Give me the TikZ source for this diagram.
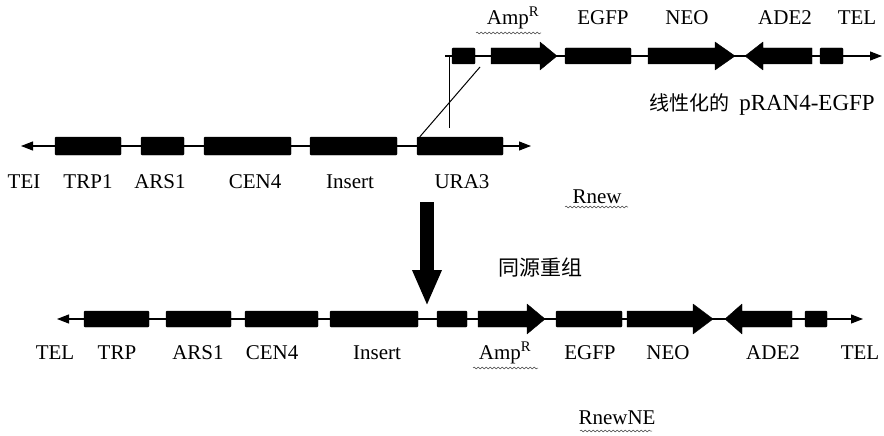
\documentclass[tikz,border=0pt]{standalone}
\usepackage{fontspec}
\setmainfont{Liberation Serif}
\newfontfamily\cjk{Noto Sans CJK SC}
\usetikzlibrary{arrows.meta, decorations.pathmorphing}

\begin{document}
\begin{tikzpicture}[
    x=1pt, y=-1pt,
    backbone/.style={line width=1.1pt},
    righttip/.style={-{Triangle[length=12pt, width=9pt]}},
    bothtips/.style={{Triangle[length=12pt, width=9pt]}-{Triangle[length=12pt, width=9pt]}},
    gene/.style={rectangle, draw, fill=black, rounded corners=1pt, inner sep=0pt, minimum height=16pt},
    genearrow/.style={fill=black, draw, line join=round},
    lbl/.style={font=\fontsize{21}{24}\selectfont, inner sep=1pt},
    wavy/.style={decorate, decoration={snake, amplitude=0.9pt, segment length=4pt}, line width=0.5pt, black!75},
]
    \useasboundingbox (0,0) rectangle (884,436);

    % linearised plasmid
    \coordinate (top-l) at (445,56);
    \coordinate (top-r) at (882,56);
    \draw[backbone, righttip] (top-l) -- (top-r);
    \node[gene, minimum width=23pt] (top-s) at (463.5,56) {};
    \fill[genearrow] (491,48) -- (540,48) -- (540,42) -- (557,56) -- (540,70) -- (540,64) -- (491,64) -- cycle;
    \node[gene, minimum width=66pt] (top-egfp) at (598,56) {};
    \fill[genearrow] (648,48) -- (715,48) -- (715,42) -- (735,56) -- (715,70) -- (715,64) -- (648,64) -- cycle;
    \fill[genearrow] (812,48) -- (763,48) -- (763,42) -- (745,56) -- (763,70) -- (763,64) -- (812,64) -- cycle;
    \node[gene, minimum width=23pt] (top-tel) at (831.5,56) {};

    \node[lbl] (t-amp) at (513,18) {Amp\textsuperscript{R}};
    \node[lbl] (t-egfp) at (603,18) {EGFP};
    \node[lbl] (t-neo) at (687,18) {NEO};
    \node[lbl] (t-ade2) at (785,18) {ADE2};
    \node[lbl] (t-tel) at (857,18) {TEL};
    \draw[wavy] (476,33) -- (541,33);
    \node[lbl, font=\fontsize{23}{26}\selectfont] (t-name) at (762,105) {{\cjk\fontsize{20}{24}\selectfont 线性化的}\hspace{10pt}pRAN4-EGFP};

    % Rnew
    \coordinate (mid-l) at (21,146);
    \coordinate (mid-r) at (531,146);
    \draw[backbone, bothtips] (mid-l) -- (mid-r);
    \node[gene, minimum height=18pt, minimum width=66pt] (m-trp1) at (88,146) {};
    \node[gene, minimum height=18pt, minimum width=43pt] (m-ars1) at (162.5,146) {};
    \node[gene, minimum height=18pt, minimum width=87pt] (m-cen4) at (247.5,146) {};
    \node[gene, minimum height=18pt, minimum width=87pt] (m-insert) at (353.5,146) {};
    \node[gene, minimum height=18pt, minimum width=86pt] (m-ura3) at (460,146) {};

    \node[lbl] (l-tel) at (24,182) {TEI};
    \node[lbl] (l-trp1) at (88,182) {TRP1};
    \node[lbl] (l-ars1) at (160,182) {ARS1};
    \node[lbl] (l-cen4) at (255,182) {CEN4};
    \node[lbl] (l-insert) at (350,182) {Insert};
    \node[lbl] (l-ura3) at (462,182) {URA3};
    \node[lbl] (l-name) at (597,197) {Rnew};
    \draw[wavy] (565,207) -- (628,207);

    % crossover
    \coordinate (cross-v) at (449,128);
    \coordinate (cross-d) at (480,67);
    \draw[line width=1pt] (449,56) -- (cross-v);
    \draw[line width=1pt] (m-ura3.north west) ++(3,0) -- (cross-d);

    % recombination
    \coordinate (rec-a) at (427,202);
    \coordinate (rec-b) at (427,306);
    \draw[line width=14pt, -{Triangle[length=36pt, width=27pt]}] (rec-a) -- (rec-b);
    \node[lbl] (rec-lbl) at (540,268) {\cjk 同源重组};

    % RnewNE
    \coordinate (bot-l) at (57,319);
    \coordinate (bot-r) at (863,319);
    \draw[backbone, bothtips] (bot-l) -- (bot-r);
    \node[gene, minimum width=65pt] (b-trp) at (116.5,319) {};
    \node[gene, minimum width=65pt] (b-ars1) at (198.5,319) {};
    \node[gene, minimum width=73pt] (b-cen4) at (281.5,319) {};
    \node[gene, minimum width=88pt] (b-insert) at (374,319) {};
    \node[gene, minimum width=30pt] (b-s) at (452,319) {};
    \fill[genearrow] (478,311) -- (527,311) -- (527,304) -- (545,319) -- (527,334) -- (527,327) -- (478,327) -- cycle;
    \node[gene, minimum width=66pt] (b-egfp) at (589,319) {};
    \fill[genearrow] (627,311) -- (693,311) -- (693,304) -- (713,319) -- (693,334) -- (693,327) -- (627,327) -- cycle;
    \fill[genearrow] (792,311) -- (742,311) -- (742,304) -- (725,319) -- (742,334) -- (742,327) -- (792,327) -- cycle;
    \node[gene, minimum width=22pt] (b-tel) at (816,319) {};

    \node[lbl] (bl-tel) at (55,353) {TEL};
    \node[lbl] (bl-trp) at (117,353) {TRP};
    \node[lbl] (bl-ars1) at (198,353) {ARS1};
    \node[lbl] (bl-cen4) at (272,353) {CEN4};
    \node[lbl] (bl-insert) at (377,353) {Insert};
    \node[lbl] (bl-amp) at (505,353) {Amp\textsuperscript{R}};
    \node[lbl] (bl-egfp) at (590,353) {EGFP};
    \node[lbl] (bl-neo) at (668,353) {NEO};
    \node[lbl] (bl-ade2) at (773,353) {ADE2};
    \node[lbl] (bl-tel2) at (860,353) {TEL};
    \draw[wavy] (473,368) -- (538,368);
    \node[lbl] (bl-name) at (617,418) {RnewNE};
    \draw[wavy] (580,431) -- (652,431);
\end{tikzpicture}
\end{document}
